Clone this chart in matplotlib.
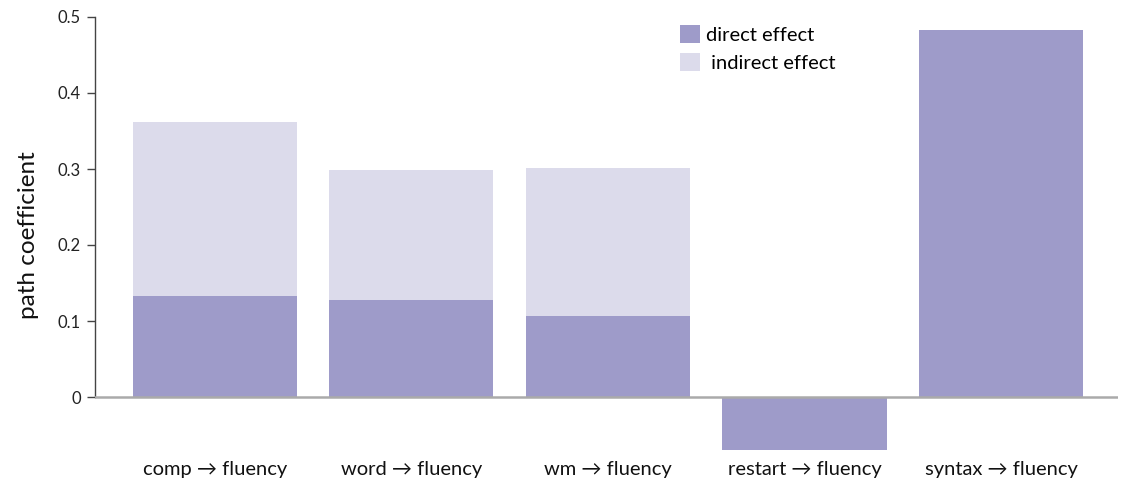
import matplotlib
matplotlib.use("Agg")
import matplotlib.pyplot as plt

categories = ["comp \u2192 fluency", "word \u2192 fluency", "wm \u2192 fluency",
              "restart \u2192 fluency", "syntax \u2192 fluency"]
direct = [0.133, 0.128, 0.107, -0.070, 0.483]
total = [0.362, 0.299, 0.301, -0.070, 0.483]
indirect = [t - d if d > 0 else 0.0 for t, d in zip(total, direct)]
yticks = [0, 0.1, 0.2, 0.3, 0.4, 0.5]
ytick_labels = ["0", "0.1", "0.2", "0.3", "0.4", "0.5"]

plt.rcParams['font.family'] = ['Lato', 'DejaVu Sans']

c_direct = "#9e9bc9"
c_indirect = "#dcdbeb"

fig = plt.figure(figsize=(11.31, 4.82), dpi=100)
ax = fig.add_axes([95/1131, 1 - 454/482, (1118 - 95)/1131, (454 - 17)/482])

x = list(range(len(categories)))
w = 0.835
b1 = ax.bar(x, direct, width=w, color=c_direct, label="direct effect", zorder=2)
b2 = ax.bar(x, indirect, width=w, bottom=[max(d, 0) for d in direct],
            color=c_indirect, label=" indirect effect", zorder=2)

ax.set_xlim(-0.61, 4.595)
ax.set_ylim(-0.075, 0.5)
ax.axhline(0, color="#aaaaaa", lw=1.8, zorder=3)

for s in ["top", "right", "bottom"]:
    ax.spines[s].set_visible(False)
ax.spines["left"].set_bounds(0, 0.5)
ax.spines["left"].set_color("#444444")
ax.spines["left"].set_linewidth(1.0)

ax.set_yticks(yticks)
ax.set_yticklabels(ytick_labels, fontsize=12, color="#222222")
ax.tick_params(axis="y", length=6, width=1, color="#444444", pad=4)

ax.set_xticks(x)
ax.set_xticklabels(categories, fontsize=14.5, color="#111111")
ax.tick_params(axis="x", length=0, pad=5)

ax.set_ylabel("path coefficient", fontsize=17.5, color="#111111", labelpad=14)

leg = ax.legend(handles=[b1, b2], loc="upper left", frameon=False,
                bbox_to_anchor=(672/1131, 1 - 17/482), bbox_transform=fig.transFigure,
                fontsize=14.5, handlelength=1.0, handleheight=1.0, handletextpad=0.3,
                labelspacing=0.45, borderaxespad=0)

fig.savefig("out.png", dpi=100)
